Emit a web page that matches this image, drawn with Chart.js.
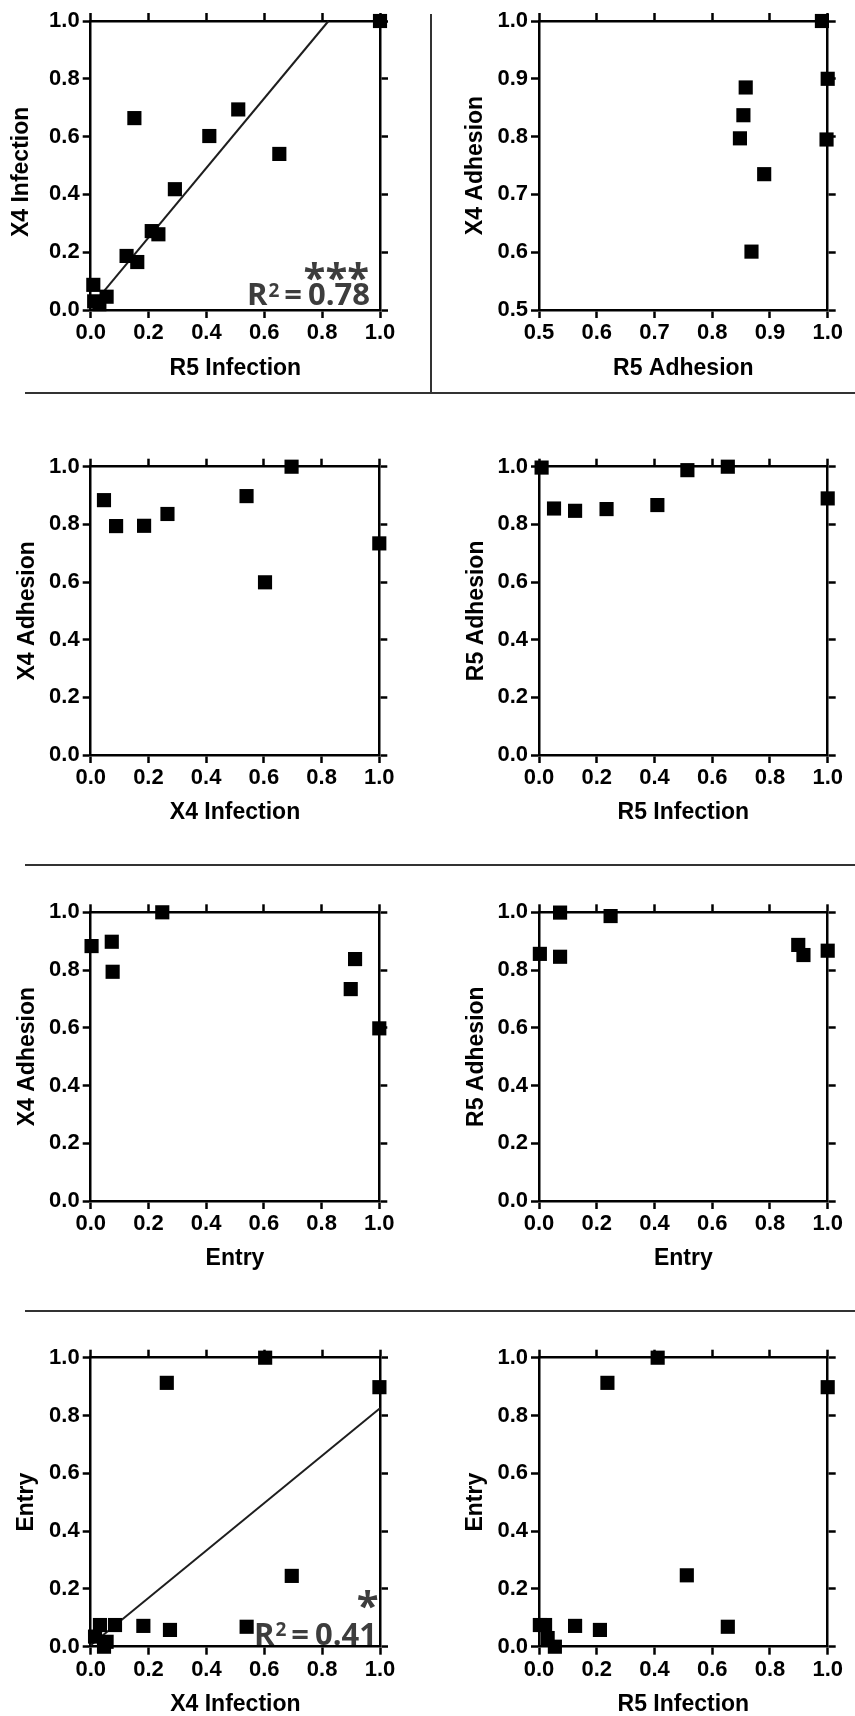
<!DOCTYPE html>
<html><head><meta charset="utf-8">
<script src="https://cdn.jsdelivr.net/npm/chart.js@4.4.1/dist/chart.umd.min.js"></script>
<style>
html,body{margin:0;padding:0;background:#fff;}
body{width:855px;height:1716px;position:relative;overflow:hidden;}
.sep{position:absolute;background:#333;}
canvas{position:absolute;}
</style></head><body>
<div class="sep" style="left:25px;top:392px;width:830px;height:2px"></div>
<div class="sep" style="left:430px;top:14px;width:2px;height:379px"></div>
<div class="sep" style="left:25px;top:864px;width:830px;height:2px"></div>
<div class="sep" style="left:25px;top:1310px;width:830px;height:2px"></div>
<script>
// ---------- DATA ----------
// A: R5 Infection (x) vs X4 Infection (y), with linear fit
const aR5Infection = [1.0, 0.151, 0.510, 0.410, 0.652, 0.291, 0.211, 0.234, 0.124, 0.161, 0.009, 0.055, 0.012, 0.030];
const aX4Infection = [1.0, 0.664, 0.694, 0.602, 0.540, 0.418, 0.273, 0.262, 0.187, 0.166, 0.087, 0.046, 0.030, 0.020];
const aFitX = [0.0, 0.822];
const aFitY = [0.01, 1.0];
// B: R5 Adhesion (x) vs X4 Adhesion (y)
const bR5Adhesion = [0.990, 0.858, 0.854, 0.848, 1.000, 0.998, 0.890, 0.868];
const bX4Adhesion = [1.000, 0.885, 0.837, 0.797, 0.900, 0.795, 0.735, 0.601];
// C: X4 Infection (x) vs X4 Adhesion (y)
const cX4Infection = [0.046, 0.088, 0.185, 0.266, 0.540, 0.696, 0.604, 1.0];
const cX4Adhesion = [0.884, 0.794, 0.795, 0.836, 0.898, 1.000, 0.599, 0.734];
// D: R5 Infection (x) vs R5 Adhesion (y)
const dR5Infection = [0.009, 0.052, 0.125, 0.234, 0.410, 0.514, 0.654, 1.0];
const dR5Adhesion = [0.997, 0.855, 0.847, 0.853, 0.867, 0.988, 1.000, 0.890];
// E: Entry (x) vs X4 Adhesion (y)
const eEntry = [0.003, 0.073, 0.076, 0.248, 0.916, 0.901, 1.0];
const eX4Adhesion = [0.883, 0.898, 0.794, 1.000, 0.838, 0.734, 0.598];
// F: Entry (x) vs R5 Adhesion (y)
const fEntry = [0.003, 0.073, 0.073, 0.248, 0.898, 0.916, 1.0];
const fR5Adhesion = [0.856, 0.999, 0.846, 0.987, 0.887, 0.852, 0.867];
// G: X4 Infection (x) vs Entry (y), with linear fit
const gX4Infection = [0.603, 0.263, 0.998, 0.695, 0.539, 0.274, 0.182, 0.084, 0.032, 0.015, 0.055, 0.046];
const gEntry = [1.000, 0.913, 0.898, 0.245, 0.069, 0.058, 0.072, 0.075, 0.075, 0.035, 0.017, 0.000];
const gFitX = [0.0, 1.0];
const gFitY = [0.005, 0.825];
// H: R5 Infection (x) vs Entry (y)
const hR5Infection = [0.411, 0.237, 1.0, 0.512, 0.654, 0.211, 0.125, 0.003, 0.021, 0.030, 0.055];
const hEntry = [1.000, 0.913, 0.898, 0.247, 0.069, 0.058, 0.072, 0.075, 0.075, 0.030, 0.000];
// Axis ranges / tick steps
const unitRange = [0, 1, 0.2];
const adhesionRange = [0.5, 1, 0.1];
// Significance labels
const aR2 = '0.78', aStars = '***';
const gR2 = '0.41', gStars = '*';

// ---------- LAYOUT ----------
const COL = {l: {x: 0, w: 432}, r: {x: 432, w: 423}};
const ROW = [{y: 0, h: 392}, {y: 392, h: 472}, {y: 864, h: 446}, {y: 1310, h: 406}];

const FONT = '"Liberation Sans", Arial, sans-serif';
const TICK_FONT = {family: FONT, size: 22, weight: 'bold'};
const TITLE_FONT = {family: FONT, size: 23, weight: 'bold'};

const sigPlugin = {
  id: 'sig',
  afterDatasetsDraw(chart, args, o) {
    if (!o || !o.r2) return;
    const ctx = chart.ctx, a = chart.chartArea;
    ctx.save();
    ctx.fillStyle = '#3d3d3d';
    ctx.textBaseline = 'alphabetic';
    ctx.textAlign = 'left';
    const big = 'bold 31px "Open Sans"', small = 'bold 19px "Open Sans"';
    ctx.font = big;
    const wR = ctx.measureText('R').width, wEq = ctx.measureText('=').width, wNum = ctx.measureText(o.r2).width;
    ctx.font = small;
    const w2 = ctx.measureText('2').width;
    const g1 = 6, g2 = 6;
    const total = wR + w2 + g1 + wEq + g2 + wNum;
    let x = a.right - o.right - total;
    const base = a.bottom - o.bottom;
    ctx.font = big; ctx.fillText('R', x, base); x += wR;
    ctx.font = small; ctx.fillText('2', x + 1, base - 8.5); x += w2 + g1;
    ctx.font = big; ctx.fillText('=', x, base); x += wEq + g2;
    ctx.fillText(o.r2, x, base);
    ctx.font = 'bold 40px "Open Sans"';
    ctx.textAlign = 'right';
    ctx.fillText(o.stars, a.right - o.starsRight, a.bottom - o.starsBottom);
    ctx.restore();
  }
};

function toPts(xs, ys) { return xs.map((v, i) => ({x: v, y: ys[i]})); }

function axis(pos, range, size, showLabels, title, titlePad) {
  const s = {
    type: 'linear', position: pos, min: range[0], max: range[1],
    afterFit: (sc) => { if (pos === 'left' || pos === 'right') sc.width = size; else sc.height = size; },
    border: {display: true, color: '#000', width: 2.5},
    grid: {drawOnChartArea: false, drawTicks: true, tickLength: 8, tickWidth: 2.5, tickColor: '#000'},
    ticks: {display: showLabels, stepSize: range[2], color: '#000', font: TICK_FONT,
            padding: (pos === 'bottom') ? 2 : 3, autoSkip: false, maxRotation: 0,
            callback: (v) => Number(v).toFixed(1)}
  };
  if (title) {
    s.title = {display: true, text: title, color: '#000', font: TITLE_FONT,
      padding: pos === 'bottom' ? {top: 0, bottom: titlePad} : {top: titlePad, bottom: 0}};
  }
  return s;
}

function panel(id, spec) {
  const c = COL[spec.col], r = ROW[spec.row];
  const cv = document.createElement('canvas');
  cv.id = id; cv.width = c.w; cv.height = r.h;
  cv.style.left = c.x + 'px'; cv.style.top = r.y + 'px';
  cv.style.width = c.w + 'px'; cv.style.height = r.h + 'px';
  document.body.appendChild(cv);
  const yW = spec.L - c.x, y2W = c.x + c.w - spec.R, x2H = spec.T - r.y, xH = r.y + r.h - spec.B;
  const half = TITLE_FONT.size * 1.2 / 2;
  const xPad = (r.y + r.h) - spec.xtY - half;
  const yPad = spec.ytX - c.x - half;
  const datasets = [{
    data: toPts(spec.xs, spec.ys), pointStyle: 'rect', pointRadius: 10, pointHoverRadius: 10,
    backgroundColor: '#000', borderColor: '#000', borderWidth: 0, clip: false, showLine: false
  }];
  if (spec.fitX) {
    datasets.push({type: 'line', data: toPts(spec.fitX, spec.fitY), showLine: true, pointRadius: 0,
      borderColor: '#1e1e1e', borderWidth: 2, fill: false, clip: false, tension: 0});
  }
  return new Chart(cv, {
    type: 'scatter',
    data: {datasets},
    options: {
      responsive: false, animation: false, devicePixelRatio: 1, events: [],
      layout: {padding: 0},
      plugins: {legend: {display: false}, tooltip: {enabled: false}, sig: spec.sig || {}},
      scales: {
        x: axis('bottom', spec.xr, xH, true, spec.xt, xPad),
        x2: axis('top', spec.xr, x2H, false),
        y: axis('left', spec.yr, yW, true, spec.yt, yPad),
        y2: axis('right', spec.yr, y2W, false)
      }
    },
    plugins: [sigPlugin]
  });
}

panel('cA', {col: 'l', row: 0, L: 90.7, R: 380, T: 21, B: 310, xtY: 369, ytX: 21.5,
  xs: aR5Infection, ys: aX4Infection, fitX: aFitX, fitY: aFitY, xr: unitRange, yr: unitRange,
  xt: 'R5 Infection', yt: 'X4 Infection  ',
  sig: {r2: aR2, stars: aStars, right: 10, bottom: 5, starsRight: 11, starsBottom: 18}});
panel('cB', {col: 'r', row: 0, L: 539, R: 827.7, T: 21, B: 310, xtY: 369, ytX: 476,
  xs: bR5Adhesion, ys: bX4Adhesion, xr: adhesionRange, yr: adhesionRange,
  xt: 'R5 Adhesion', yt: 'X4 Adhesion'});
panel('cC', {col: 'l', row: 1, L: 90.7, R: 379.3, T: 466.7, B: 755, xtY: 812.5, ytX: 28,
  xs: cX4Infection, ys: cX4Adhesion, xr: unitRange, yr: unitRange,
  xt: 'X4 Infection', yt: 'X4 Adhesion'});
panel('cD', {col: 'r', row: 1, L: 539, R: 827.7, T: 466.7, B: 755, xtY: 812.5, ytX: 476.7,
  xs: dR5Infection, ys: dR5Adhesion, xr: unitRange, yr: unitRange,
  xt: 'R5 Infection', yt: 'R5 Adhesion'});
panel('cE', {col: 'l', row: 2, L: 90.7, R: 379.3, T: 912.3, B: 1201, xtY: 1258.5, ytX: 28,
  xs: eEntry, ys: eX4Adhesion, xr: unitRange, yr: unitRange,
  xt: 'Entry', yt: 'X4 Adhesion'});
panel('cF', {col: 'r', row: 2, L: 539, R: 827.7, T: 912.3, B: 1201, xtY: 1258.5, ytX: 476.7,
  xs: fEntry, ys: fR5Adhesion, xr: unitRange, yr: unitRange,
  xt: 'Entry', yt: 'R5 Adhesion'});
panel('cG', {col: 'l', row: 3, L: 90.7, R: 380, T: 1357.7, B: 1646.7, xtY: 1705, ytX: 27,
  xs: gX4Infection, ys: gEntry, fitX: gFitX, fitY: gFitY, xr: unitRange, yr: unitRange,
  xt: 'X4 Infection', yt: 'Entry',
  sig: {r2: gR2, stars: gStars, right: 3, bottom: 2, starsRight: 1.5, starsBottom: 27}});
panel('cH', {col: 'r', row: 3, L: 539, R: 827.7, T: 1357.7, B: 1646.7, xtY: 1705, ytX: 476,
  xs: hR5Infection, ys: hEntry, xr: unitRange, yr: unitRange,
  xt: 'R5 Infection', yt: 'Entry'});
</script>
</body></html>
